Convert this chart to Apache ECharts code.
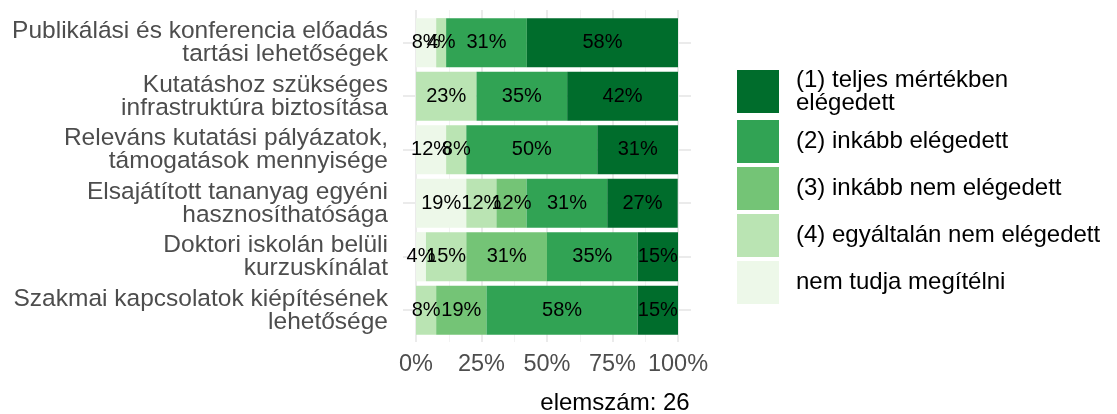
<!DOCTYPE html>
<html>
<head>
<meta charset="utf-8">
<script src="https://cdn.jsdelivr.net/npm/echarts@6/dist/echarts.min.js"></script>
<style>
  html, body { margin: 0; padding: 0; background: #fff; }
  #chart { width: 1117px; height: 414px; }
</style>
</head>
<body>
<div id="chart"></div>
<script>
// kategóriák felülről lefelé
var categories = [
  'Publikálási és konferencia előadás\ntartási lehetőségek',
  'Kutatáshoz szükséges\ninfrastruktúra biztosítása',
  'Releváns kutatási pályázatok,\ntámogatások mennyisége',
  'Elsajátított tananyag egyéni\nhasznosíthatósága',
  'Doktori iskolán belüli\nkurzuskínálat',
  'Szakmai kapcsolatok kiépítésének\nlehetősége'
];
var seriesNames = [
  'nem tudja megítélni',
  '(4) egyáltalán nem elégedett',
  '(3) inkább nem elégedett',
  '(2) inkább elégedett',
  '(1) teljes mértékben\nelégedett'
];
var colors = ['#edf8e9', '#bae4b3', '#74c476', '#31a354', '#006d2c'];
// százalékok (n = 26)
var nemTudja   = [7.7, 0, 11.5, 19.2, 3.8, 0];
var egyaltalan = [3.8, 23.1, 7.7, 11.5, 15.4, 7.7];
var inkabbNem  = [0, 0, 0, 11.5, 30.8, 19.2];
var inkabb     = [30.8, 34.6, 50, 30.8, 34.6, 57.7];
var teljes     = [57.7, 42.3, 30.8, 26.9, 15.4, 15.4];
var xTicks = [0, 25, 50, 75, 100];
var sampleSize = 26;

var values = [nemTudja, egyaltalan, inkabbNem, inkabb, teljes];
var font = 'Liberation Sans, Arial, sans-serif';

var chart = echarts.init(document.getElementById('chart'));

var series = values.map(function (arr, i) {
  return {
    name: seriesNames[i],
    type: 'bar',
    stack: 'total',
    xAxisIndex: 2,
    yAxisIndex: 2,
    barCategoryGap: '8%',
    data: arr,
    itemStyle: { color: colors[i] },
    label: {
      show: true,
      position: 'inside',
      color: '#000',
      fontSize: 20,
      fontFamily: font,
      formatter: function (p) {
        return p.value > 0 ? Math.round(p.value) + '%' : '';
      }
    },
    emphasis: { disabled: true }
  };
});

var option = {
  animation: false,
  backgroundColor: '#fff',
  grid: [
    { left: 416, width: 262, top: 10, height: 332 },
    { left: 403, width: 288, top: 42.5, height: 267.5 },
    { left: 416, width: 262, top: 16, height: 321 }
  ],
  xAxis: [{
    gridIndex: 0,
    type: 'value',
    min: xTicks[0],
    max: xTicks[xTicks.length - 1],
    interval: 25,
    axisLine: { show: false },
    axisTick: { show: false },
    axisLabel: {
      margin: 11,
      fontSize: 23.5,
      color: '#4d4d4d',
      fontFamily: font,
      formatter: '{value}%'
    },
    splitLine: { show: true, lineStyle: { color: '#ebebeb', width: 2 } },
    minorTick: { show: false, splitNumber: 2 },
    minorSplitLine: { show: true, lineStyle: { color: '#f2f2f2', width: 1 } }
  }, {
    gridIndex: 1, type: 'value', show: false
  }, {
    gridIndex: 2, type: 'value', min: 0, max: 100, show: false
  }],
  yAxis: [{
    gridIndex: 0, type: 'value', show: false
  }, {
    gridIndex: 1,
    type: 'value',
    min: 0, max: 5, interval: 1,
    axisLine: { show: false },
    axisTick: { show: false },
    axisLabel: { show: false },
    splitLine: { show: true, lineStyle: { color: '#ebebeb', width: 2 } }
  }, {
    gridIndex: 2,
    type: 'category',
    inverse: true,
    data: categories,
    axisLine: { show: false },
    axisTick: { show: false },
    splitLine: { show: false },
    axisLabel: {
      margin: 28,
      fontSize: 24.5,
      lineHeight: 23,
      padding: [6, 0, 0, 0],
      color: '#4d4d4d',
      fontFamily: font,
      align: 'right'
    }
  }],
  legend: {
    orient: 'vertical',
    left: 737,
    top: 67,
    padding: 0,
    itemWidth: 42,
    itemHeight: 43,
    itemGap: 4,
    icon: 'rect',
    selectedMode: false,
    data: seriesNames.slice().reverse(),
    textStyle: {
      fontSize: 24,
      lineHeight: 23,
      color: '#000',
      fontFamily: font,
      padding: [3, 0, 0, 12]
    }
  },
  graphic: [{
    type: 'text',
    x: 615,
    y: 403,
    style: {
      text: 'elemszám: ' + sampleSize,
      fill: '#000',
      font: '24px ' + font,
      textAlign: 'center',
      textVerticalAlign: 'middle'
    }
  }],
  series: series
};

chart.setOption(option);
</script>
</body>
</html>
